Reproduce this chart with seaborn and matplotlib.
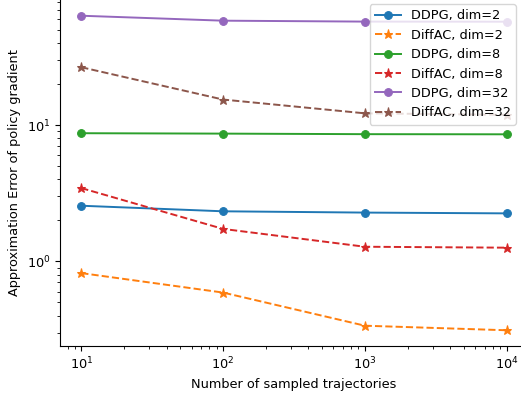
import numpy as np
import pandas as pd
import matplotlib
matplotlib.use("Agg")
import matplotlib.pyplot as plt
import seaborn as sns

# Sample counts on the x axis
n_samples = [10, 100, 1000, 10000]

# Approximation error
ddpg_dim2 = [2.56, 2.33, 2.28, 2.25]
diffac_dim2 = [0.82, 0.59, 0.337, 0.312]
ddpg_dim8 = [8.72, 8.66, 8.58, 8.56]
diffac_dim8 = [3.45, 1.73, 1.28, 1.26]
ddpg_dim32 = [63.5, 58.4, 57.5, 57.4]
diffac_dim32 = [26.6, 15.4, 12.2, 11.9]

series = [
    ("DDPG, dim=2", ddpg_dim2),
    ("DiffAC, dim=2", diffac_dim2),
    ("DDPG, dim=8", ddpg_dim8),
    ("DiffAC, dim=8", diffac_dim8),
    ("DDPG, dim=32", ddpg_dim32),
    ("DiffAC, dim=32", diffac_dim32),
]

# original looks like a default mpl figure shrunk a bit
plt.rcParams["font.size"] = 9.3
plt.rcParams["lines.linewidth"] = 1.4
colors = sns.color_palette("tab10", 6)

fig = plt.figure(figsize=(5.21, 3.93), dpi=100)
# axes runs slightly past the right edge, like the cropped original
ax = fig.add_axes([60 / 521, 47 / 393, 468 / 521, 346 / 393])

for i, (name, vals) in enumerate(series):
    df = pd.DataFrame({"n": n_samples, "err": vals})
    is_ddpg = name.startswith("DDPG")
    sns.lineplot(data=df, x="n", y="err", ax=ax, color=colors[i],
                 marker="o" if is_ddpg else "*",
                 markersize=5.6 if is_ddpg else 6.5,
                 markeredgecolor=colors[i],
                 linestyle="-" if is_ddpg else "--",
                 label=name)

ax.set_xscale("log")
ax.set_yscale("log")
ax.set_xlabel("Number of sampled trajectories")
ax.set_ylabel("Approximation Error of policy gradient")
ax.spines["top"].set_visible(False)
ax.spines["right"].set_visible(False)

ax.legend(loc="upper right", bbox_to_anchor=(516 / 521, 1 - 4 / 393),
          bbox_transform=fig.transFigure, borderaxespad=0)

fig.savefig("out.png", dpi=100)
